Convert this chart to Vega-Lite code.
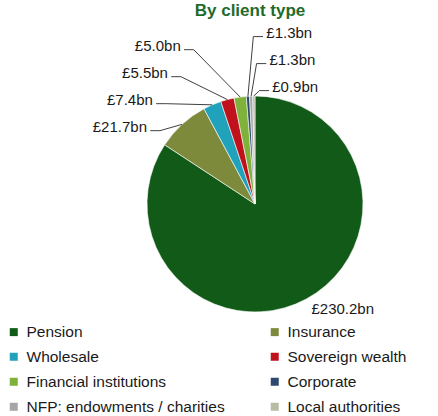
{
  "$schema": "https://vega.github.io/schema/vega-lite/v6.json",
  "width": 438,
  "height": 388,
  "autosize": {"type": "none"},
  "padding": {"top": 28, "left": 0, "right": 0, "bottom": 0},
  "title": {"text": "By client type", "fontSize": 17, "fontWeight": "bold", "color": "#1e6b2c", "font": "Liberation Sans", "anchor": "middle", "dx": 31, "offset": 6},
  "config": {"view": {"stroke": null}, "font": "Liberation Sans"},
  "data": {"values": [
    {"client": "Pension", "value": 230.2},
    {"client": "Insurance", "value": 21.7},
    {"client": "Wholesale", "value": 7.4},
    {"client": "Sovereign wealth", "value": 5.5},
    {"client": "Financial institutions", "value": 5.0},
    {"client": "Corporate", "value": 1.3},
    {"client": "NFP: endowments / charities", "value": 1.3},
    {"client": "Local authorities", "value": 0.9}
  ]},
  "transform": [
    {"window": [{"op": "row_number", "as": "idx"}, {"op": "sum", "field": "value", "as": "cum"}], "frame": [null, 0]},
    {"joinaggregate": [{"op": "sum", "field": "value", "as": "total"}]},
    {"calculate": "(datum.cum - datum.value/2)/datum.total*2*PI", "as": "mid"},
    {"calculate": "sin(datum.mid)", "as": "sx"},
    {"calculate": "cos(datum.mid)", "as": "sy"},
    {"calculate": "datum.mid >= 354*PI/180 ? 'R' : (datum.mid >= PI ? 'L' : 'B')", "as": "side"},
    {"calculate": "(datum.side == 'R' ? 1.08 : 1.2) * datum.sy", "as": "ny"},
    {"calculate": "datum.side == 'R' ? -datum.mid : datum.mid", "as": "key"},
    {"window": [{"op": "row_number", "as": "k"}], "groupby": ["side"], "sort": [{"field": "key", "order": "ascending"}]},
    {"calculate": "datum.ny - datum.k*0.25", "as": "v"},
    {"window": [{"op": "max", "field": "v", "as": "vmax"}], "groupby": ["side"], "sort": [{"field": "key", "order": "ascending"}], "frame": [null, 0]},
    {"calculate": "datum.vmax + datum.k*0.25", "as": "ys"},
    {"joinaggregate": [{"op": "mean", "field": "ys", "as": "mys"}, {"op": "mean", "field": "ny", "as": "mny"}], "groupby": ["side"]},
    {"calculate": "datum.side == 'B' ? 1.1*datum.sy : (datum.side == 'L' ? datum.ys - (datum.mys - datum.mny) : datum.ys)", "as": "ly"},
    {"calculate": "datum.side == 'L' ? max(datum.sx - 0.55, -1.0) : (datum.side == 'R' ? datum.sx + 0.17 : 1.1*datum.sx)", "as": "lx"},
    {"calculate": "datum.side == 'L' ? datum.lx + 0.03 : datum.lx - 0.03", "as": "hx1"},
    {"calculate": "datum.side == 'L' ? datum.lx + 0.12 : datum.lx - 0.12", "as": "hx2"},
    {"calculate": "datum.ly - 0.03", "as": "hy"},
    {"calculate": "'£' + format(datum.value, '.1f') + 'bn'", "as": "label"}
  ],
  "layer": [
    {
      "mark": {"type": "arc", "outerRadius": 108, "stroke": "#ffffff", "strokeWidth": 0.6},
      "encoding": {
        "theta": {"field": "value", "type": "quantitative", "stack": true},
        "order": {"field": "idx", "type": "quantitative"},
        "x": {"datum": 0, "type": "quantitative", "scale": {"domain": [-2.3611, 1.6944], "nice": false, "zero": false}, "axis": null},
        "y": {"datum": 0, "type": "quantitative", "scale": {"domain": [-1.963, 1.6296], "nice": false, "zero": false}, "axis": null},
        "color": {
          "field": "client", "type": "nominal",
          "scale": {
            "domain": ["Pension", "Insurance", "Wholesale", "Sovereign wealth", "Financial institutions", "Corporate", "NFP: endowments / charities", "Local authorities"],
            "range": ["#125a18", "#7d8a3c", "#21a2bb", "#c0121c", "#7fb23a", "#2c4a6e", "#a6a6a6", "#b8bba6"]
          },
          "legend": {"title": null, "orient": "none", "direction": "horizontal", "legendX": 6, "legendY": 296, "columns": 2, "symbolType": "square", "symbolSize": 64, "symbolStrokeWidth": 0, "labelFontSize": 15.5, "labelColor": "#1a1a1a", "labelFont": "Liberation Sans", "labelLimit": 300, "columnPadding": 42, "rowPadding": 8, "labelOffset": 5}
        }
      }
    },
    {
      "transform": [{"filter": "datum.side != 'B'"}],
      "mark": {"type": "rule", "color": "#404040", "strokeWidth": 1},
      "encoding": {
        "x": {"field": "hx1", "type": "quantitative"},
        "x2": {"field": "hx2"},
        "y": {"field": "hy", "type": "quantitative"},
        "y2": {"field": "hy"}
      }
    },
    {
      "transform": [{"filter": "datum.side != 'B'"}],
      "mark": {"type": "rule", "color": "#404040", "strokeWidth": 1},
      "encoding": {
        "x": {"field": "hx2", "type": "quantitative"},
        "x2": {"field": "sx"},
        "y": {"field": "hy", "type": "quantitative"},
        "y2": {"field": "sy"}
      }
    },
    {
      "transform": [{"filter": "datum.side == 'L'"}],
      "mark": {"type": "text", "align": "right", "baseline": "middle", "fontSize": 15, "color": "#1a1a1a"},
      "encoding": {
        "x": {"field": "lx", "type": "quantitative"},
        "y": {"field": "ly", "type": "quantitative"},
        "text": {"field": "label"}
      }
    },
    {
      "transform": [{"filter": "datum.side != 'L'"}],
      "mark": {"type": "text", "align": "left", "baseline": "middle", "fontSize": 15, "color": "#1a1a1a"},
      "encoding": {
        "x": {"field": "lx", "type": "quantitative"},
        "y": {"field": "ly", "type": "quantitative"},
        "text": {"field": "label"}
      }
    }
  ]
}
